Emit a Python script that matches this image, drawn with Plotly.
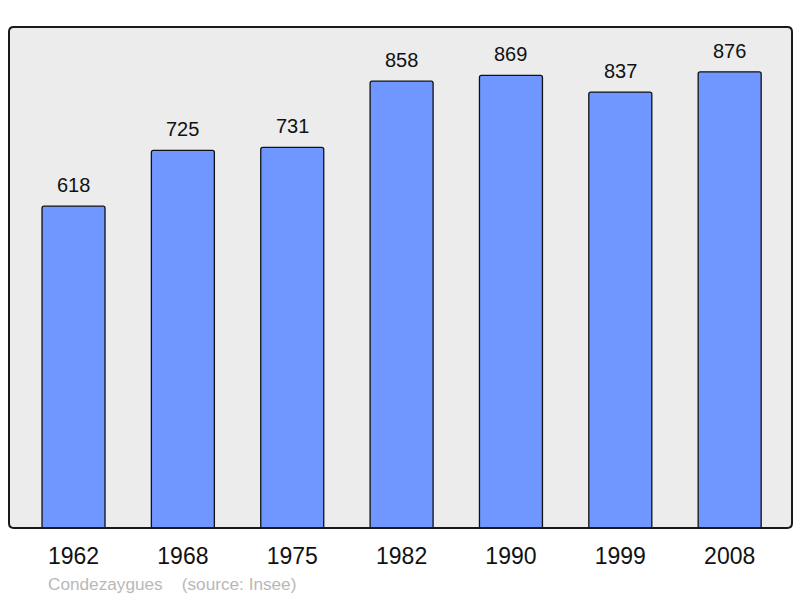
import plotly.graph_objects as go

years = ["1962", "1968", "1975", "1982", "1990", "1999", "2008"]
population = [618, 725, 731, 858, 869, 837, 876]
source_text = "Condezaygues\u00a0\u00a0\u00a0\u00a0(source: Insee)"

FONT = "Liberation Sans, Arial, sans-serif"

fig = go.Figure()

fig.add_trace(
    go.Bar(
        x=list(range(len(years))),
        y=population,
        width=0.576,
        marker=dict(color="#7096ff", line=dict(color="#111111", width=1.3), cornerradius=2),
        hoverinfo="skip",
    )
)

# value labels above the bars
for i, v in enumerate(population):
    fig.add_annotation(
        x=i, y=v, text=str(v), showarrow=False,
        yanchor="bottom", yshift=8,
        font=dict(family=FONT, size=20, color="#111111"),
    )

fig.add_annotation(
    xref="paper", yref="paper", x=(46 - 9) / 783, y=-0.112,
    xanchor="left", yanchor="middle", showarrow=False,
    text=source_text,
    font=dict(family=FONT, size=17.2, color="#b8b8b8"),
)

# frame with rounded corners
r = 0.006
ry = r * 783 / 501
fig.add_shape(
    type="path", xref="paper", yref="paper",
    path=(f"M {r},0 L {1 - r},0 Q 1,0 1,{ry} L 1,{1 - ry} Q 1,1 {1 - r},1 "
          f"L {r},1 Q 0,1 0,{1 - ry} L 0,{ry} Q 0,0 {r},0 Z"),
    line=dict(color="#1a1a1a", width=2),
    layer="above",
)

fig.update_layout(
    width=800, height=598,
    margin=dict(l=9, r=8, t=27, b=70),
    paper_bgcolor="white",
    plot_bgcolor="#ececec",
    showlegend=False,
    font=dict(family=FONT),
    xaxis=dict(
        tickmode="array",
        tickvals=list(range(len(years))),
        ticktext=years,
        range=[-0.59, 6.57],
        showgrid=False, zeroline=False,
        ticks="", ticklabelstandoff=12,
        tickfont=dict(family=FONT, size=23, color="#111111"),
        fixedrange=True,
    ),
    yaxis=dict(
        range=[0, 962],
        showgrid=False, zeroline=False,
        showticklabels=False, ticks="",
        fixedrange=True,
    ),
)

# page margin would shift the chart by 8px
fig.write_html("out.html", config={"displayModeBar": False},
               post_script="document.body.style.margin='0';")
